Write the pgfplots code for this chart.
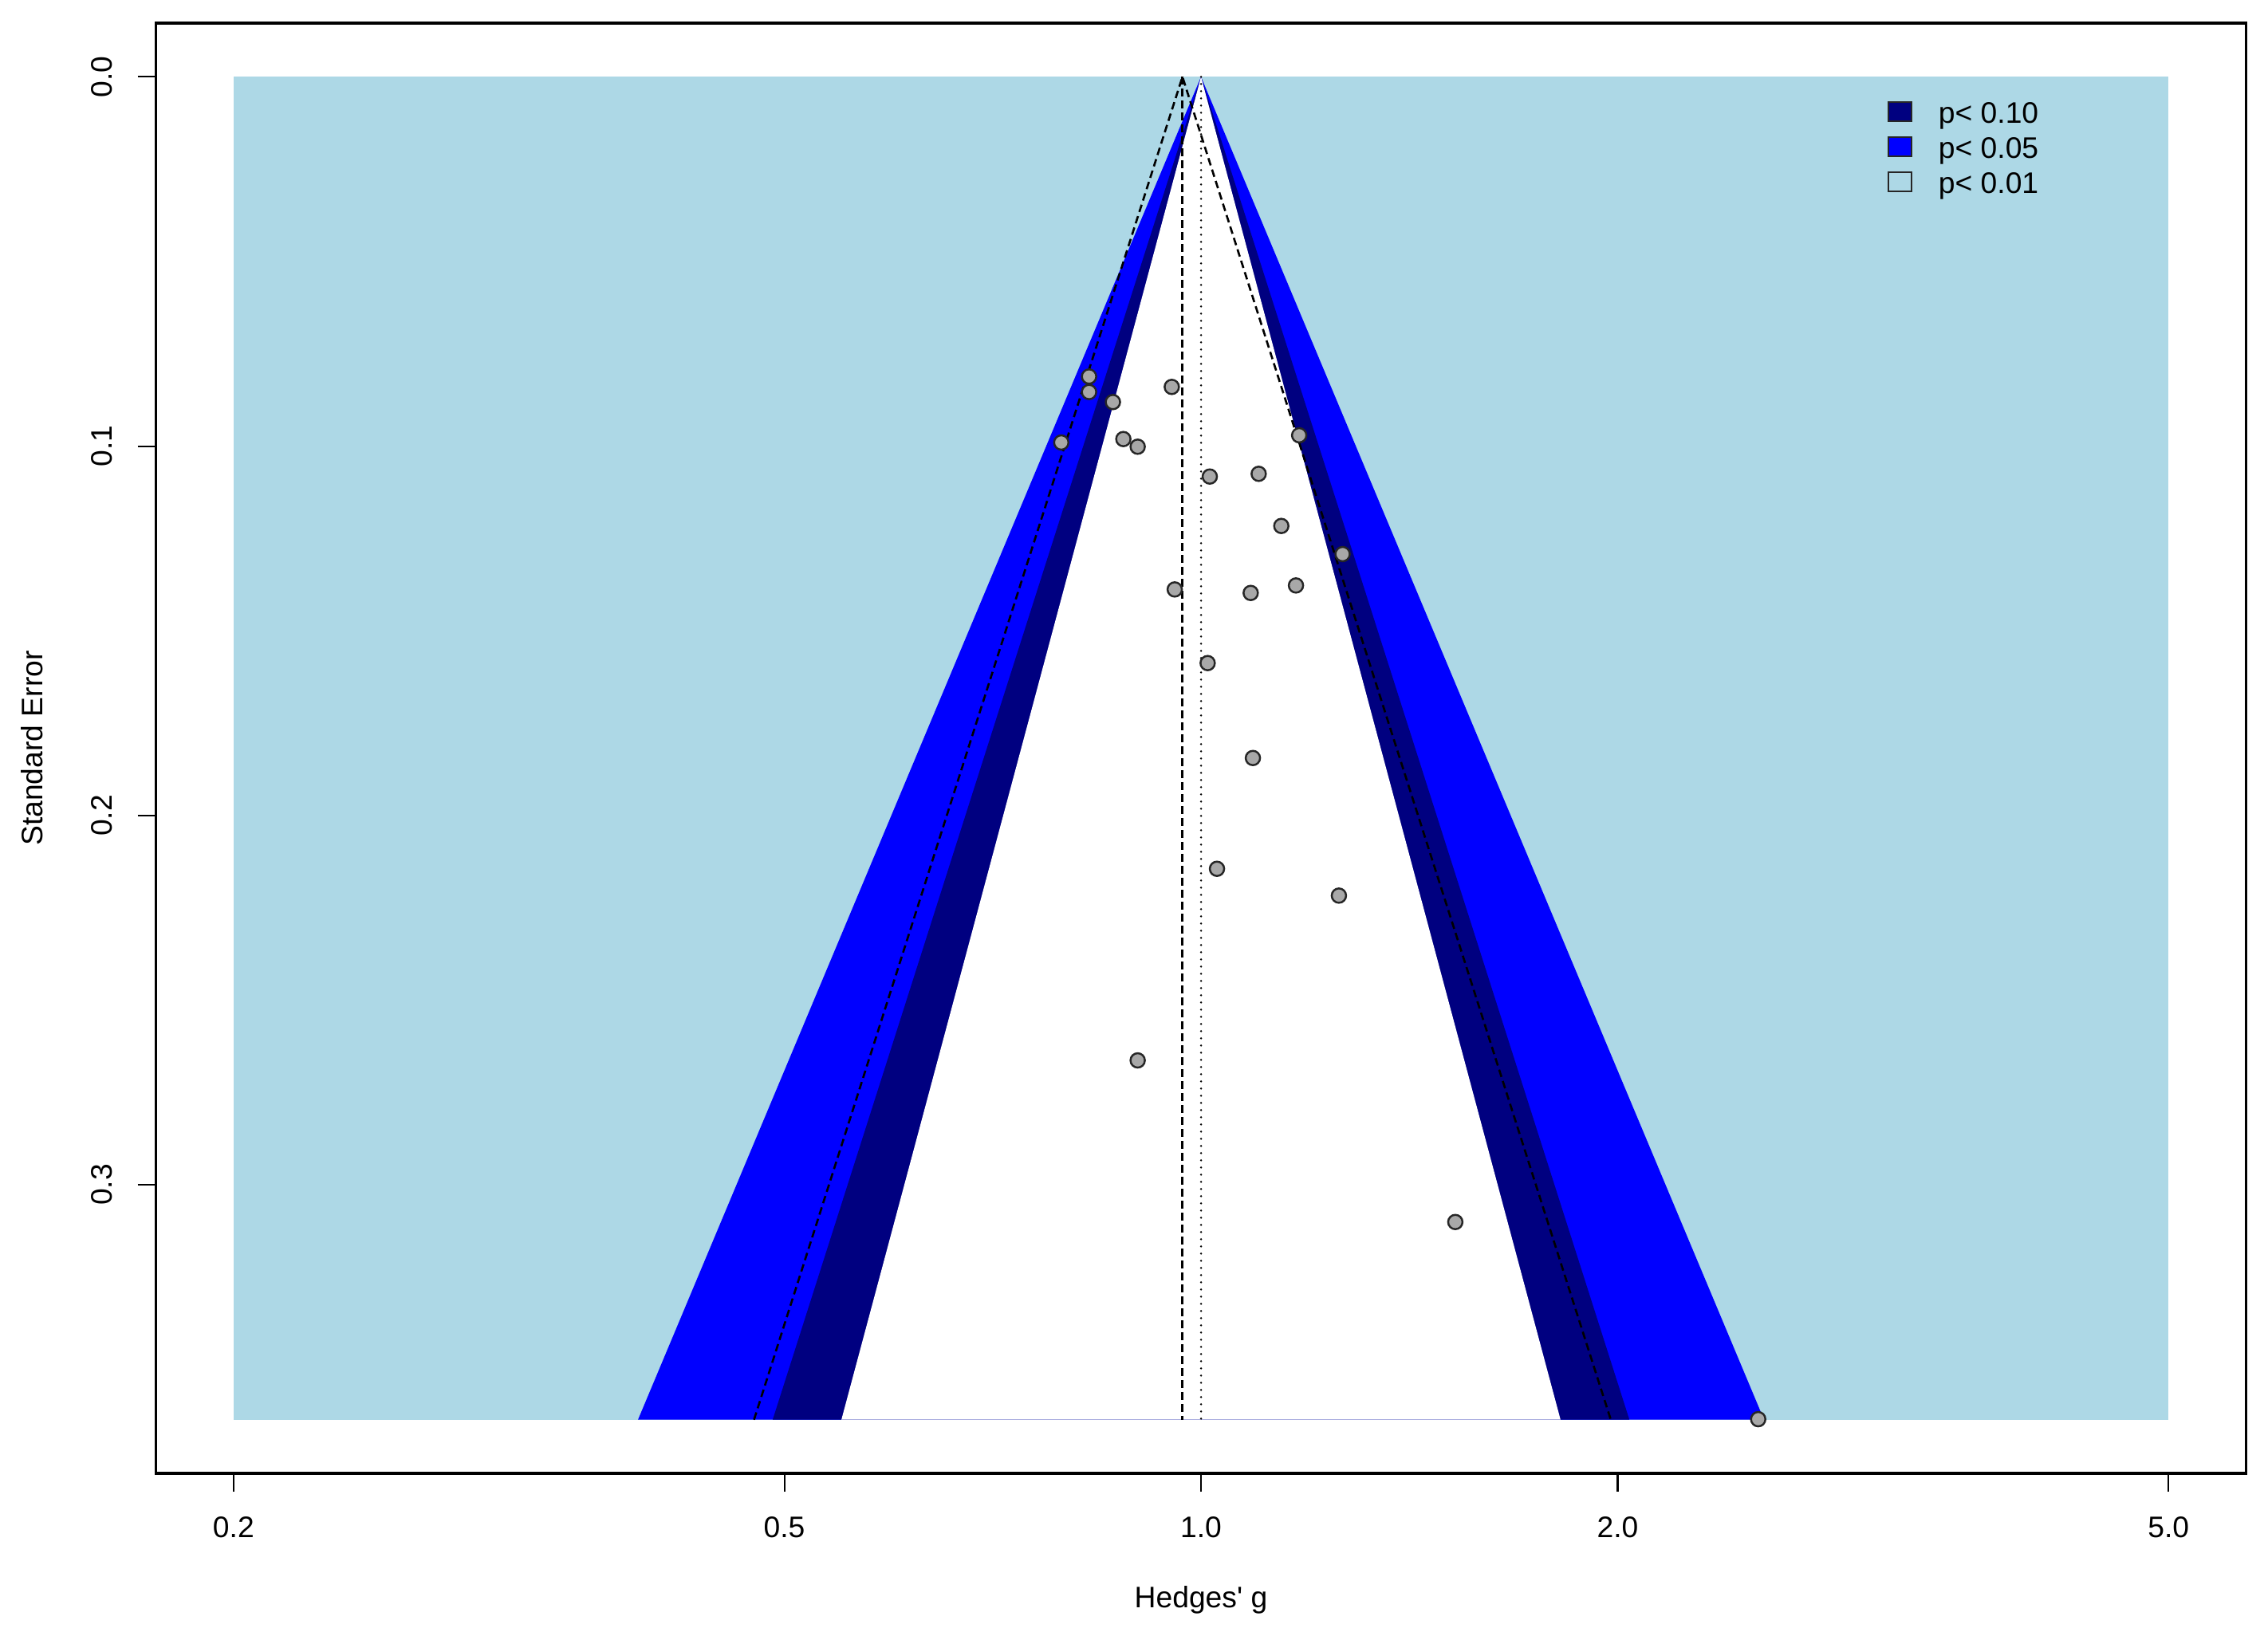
\documentclass[border=0pt]{standalone}
\usepackage{pgfplots}
\pgfplotsset{compat=1.18}
\usepackage{fontspec}
\setmainfont{Liberation Sans}
\definecolor{lb}{RGB}{173,216,230}
\definecolor{navyc}{RGB}{0,0,128}
\definecolor{bluec}{RGB}{0,0,255}
\definecolor{ptgray}{RGB}{168,168,168}
\begin{document}
\fontsize{10.6}{12.7}\selectfont
\begin{tikzpicture}
\useasboundingbox (-19.57mm,-19.8mm) rectangle (264.83mm,184.8mm);
\begin{axis}[
  at={(0,0)}, anchor=south west,
  scale only axis, width=262.06mm, height=181.9mm,
  xmode=log, xmin=0.17581, xmax=5.6879,
  ymin=-0.01454, ymax=0.37814, y dir=reverse,
  xtick={0.2,0.5,1,2,5}, xticklabels={0.2,0.5,1.0,2.0,5.0},
  ytick={0,0.1,0.2,0.3}, yticklabels={0.0,0.1,0.2,0.3},
  minor xtick={}, minor ytick={},
  tick pos=left, tick align=outside, major tick length=2.3mm,
  every tick/.append style={black, line width=0.6pt},
  axis line style={line width=0.9pt},
  tick label style={font=\fontsize{10.6}{12.7}\selectfont},
  xticklabel style={anchor=base, yshift=-5.73mm},
  yticklabel style={rotate=90, anchor=center, yshift=4.47mm},
  xlabel={Hedges\textquotesingle\ g}, ylabel={Standard Error},
  label style={font=\fontsize{10.6}{12.7}\selectfont},
  xlabel style={at={(axis description cs:0.5,0)}, anchor=base, yshift=-16.87mm},
  ylabel style={at={(axis description cs:0,0.5)}, anchor=center, yshift=15.57mm},
  legend image code/.code={\draw[#1] (0mm,-0.77mm) rectangle (2.9mm,1.63mm);},
  legend style={at={(axis description cs:0.8282,0.9465)}, anchor=north west,
    draw=none, fill=none, inner sep=0pt, row sep=1.1mm, column sep=0pt,
    font=\fontsize{10.6}{12.7}\selectfont, nodes={inner sep=0pt},
    /tikz/every odd column/.append style={column sep=3.3mm}},
  legend cell align=left,
]
% background (p < 0.01 region)
\addplot[fill=lb, draw=none, forget plot] coordinates {(0.2,0) (5,0) (5,0.3636) (0.2,0.3636)} -- cycle;
% 0.01 < p < 0.05
\addplot[fill=bluec, draw=none, forget plot] coordinates {(1,0) (2.5513,0.3636) (0.3920,0.3636)} -- cycle;
% 0.05 < p < 0.10
\addplot[fill=navyc, draw=none, forget plot] coordinates {(1,0) (2.0393,0.3636) (0.4904,0.3636)} -- cycle;
% p > 0.10
\addplot[fill=white, draw=none, forget plot] coordinates {(1,0) (1.8187,0.3636) (0.5498,0.3636)} -- cycle;
% reference line at 1
\addplot[black, line width=0.8pt, line cap=round, dash pattern=on 0pt off 0.9mm, forget plot] coordinates {(1,0) (1,0.3636)};
% estimate and pseudo confidence region
\addplot[black, line width=0.75pt, dash pattern=on 0.95mm off 0.55mm, forget plot] coordinates {(0.9696,0) (0.9696,0.3636)};
\addplot[black, line width=0.75pt, dash pattern=on 0.95mm off 0.55mm, forget plot] coordinates {(0.4754,0.3636) (0.9696,0) (1.9775,0.3636)};
% studies
\addplot[only marks, mark=*, mark size=0.9mm, mark options={fill=ptgray, draw=black!85, line width=0.7pt}, forget plot] coordinates {
(0.8301,0.08115) (0.8301,0.08534) (0.8637,0.08806) (0.9525,0.08396)
(0.7927,0.09901) (0.8788,0.09808) (0.9000,0.10015) (1.1774,0.09706)
(1.0147,0.10823) (1.1007,0.10749) (1.1429,0.12161) (1.2656,0.12923)
(0.9572,0.13880) (1.0862,0.13975) (1.1711,0.13772) (1.0111,0.15874)
(1.0901,0.18444) (1.0269,0.21444) (1.2578,0.22170) (0.9000,0.26632)
(1.5267,0.31008) (2.5268,0.36347)};
\addlegendimage{fill=navyc, draw=black!85, line width=0.6pt}
\addlegendentry{p< 0.10}
\addlegendimage{fill=bluec, draw=black!85, line width=0.6pt}
\addlegendentry{p< 0.05}
\addlegendimage{fill=lb, draw=black!85, line width=0.6pt}
\addlegendentry{p< 0.01}
\end{axis}
\end{tikzpicture}
\end{document}
